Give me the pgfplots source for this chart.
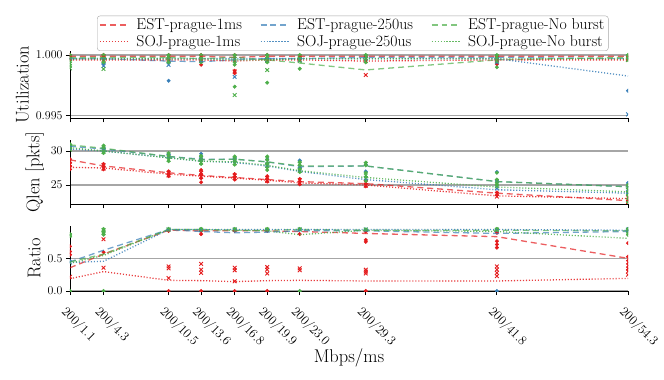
\documentclass[border=0pt]{standalone}
\usepackage{pgfplots}
\pgfplotsset{compat=1.18}
\definecolor{cr}{HTML}{E41A1C}
\definecolor{cb}{HTML}{377EB8}
\definecolor{cg}{HTML}{4DAF4A}
\pgfplotsset{
  base/.style={
    scale only axis, width=558bp,
    xmin=1.1, xmax=54.3,
    xtick={1.1,4.3,10.5,13.6,16.8,19.9,23.0,29.3,41.8,54.3},
    axis x line=bottom, axis y line=left,
    axis line style={-, line width=0.9pt, black},
    tick style={black, line width=0.8pt},
    major tick length=4bp, tick align=outside,
    ymajorgrids, grid style={black!35, line width=1.1pt},
    clip marker paths=true,
    tick label style={font=\fontsize{13}{15}\selectfont},
    label style={font=\fontsize{18.5}{22}\selectfont},
    scaled y ticks=false,
  },
  lE/.style={line width=1.3pt, opacity=0.7, dash pattern=on 6pt off 4pt},
  lS/.style={line width=1.3pt, opacity=0.85, dash pattern=on 1.1pt off 1.9pt},
  mE/.style={only marks, mark=*, mark size=1.8pt, forget plot, mark options={solid, draw=#1, fill=#1}},
  mS/.style={only marks, mark=x, mark size=2.6pt, forget plot, mark options={solid, draw=#1, line width=0.9pt}},
  legend image code/.code={\draw[#1] (0bp,0bp) -- (29bp,0bp);},
}
\begin{document}
\begin{tikzpicture}
\path[use as bounding box] (-70bp,-89bp) rectangle (594bp,291bp);
% ---------------- Utilization ----------------
\begin{axis}[base, at={(0bp,172.5bp)}, anchor=south west, height=67.5bp,
  ymin=0.99477, ymax=1.00033, ytick={0.995,1.000},
  yticklabel style={/pgf/number format/.cd, fixed, fixed zerofill, precision=3},
  xticklabels={}, ylabel={Utilization},
  legend columns=3,
  legend style={at={(0.0484,1.0)}, anchor=south west, font=\fontsize{15.8}{18}\selectfont,
    draw=black!35, rounded corners=3pt, inner xsep=2pt, inner ysep=1pt,
    /tikz/every odd column/.append style={column sep=5pt},
    /tikz/every even column/.append style={column sep=16pt}},
  legend cell align=left]
\addplot[mE=cr] coordinates {(1.1,1.0000)(1.1,0.9998)(4.3,1.0000)(4.3,0.9998)(10.5,1.0000)(10.5,0.9998)(13.6,1.0000)(13.6,0.9992)(16.8,1.0000)(16.8,0.9987)(16.8,0.9985)(19.9,1.0000)(19.9,0.9998)(23.0,0.9999)(29.3,0.9999)(41.8,0.9999)(41.8,0.99925)(54.3,0.9999)};
\addplot[mS=cr] coordinates {(1.1,0.9997)(4.3,0.9996)(10.5,0.9996)(13.6,0.9996)(16.8,0.99865)(19.9,0.9996)(23.0,0.9996)(29.3,0.99835)(29.3,0.9995)(41.8,0.9996)(54.3,0.9996)};
\addplot[mE=cb] coordinates {(1.1,0.9998)(4.3,0.9997)(4.3,0.9993)(10.5,0.99788)(10.5,0.9994)(13.6,0.9996)(16.8,0.9995)(19.9,0.9997)(23.0,0.9997)(29.3,0.9998)(41.8,0.9997)(54.3,0.99706)};
\addplot[mS=cb] coordinates {(1.1,0.9997)(4.3,0.9991)(10.5,0.99918)(13.6,0.9995)(16.8,0.9982)(19.9,0.9996)(23.0,0.9996)(29.3,0.9997)(41.8,0.9994)(54.3,0.99511)};
\addplot[mE=cg] coordinates {(1.1,1.0)(1.1,0.9998)(1.1,0.9996)(1.1,0.9994)(1.1,0.9992)(1.1,0.9990)
(4.3,1.0)(4.3,0.9998)(4.3,0.9996)(4.3,0.9994)
(10.5,1.0)(10.5,0.9998)(10.5,0.9996)(10.5,0.9994)
(13.6,1.0)(13.6,0.9998)(13.6,0.9996)(13.6,0.9994)
(16.8,1.0)(16.8,0.9998)(16.8,0.9996)(16.8,0.9994)(16.8,0.9992)(16.8,0.99739)
(19.9,1.0)(19.9,0.9998)(19.9,0.9996)(19.9,0.9994)(19.9,0.99772)
(23.0,1.0)(23.0,0.9998)(23.0,0.9996)(23.0,0.99887)
(29.3,1.0)(29.3,0.9998)(29.3,0.9996)(29.3,0.9994)
(41.8,1.0)(41.8,0.9998)(41.8,0.9996)(41.8,0.99899)
(54.3,1.0)(54.3,0.9998)(54.3,0.9996)};
\addplot[mS=cg] coordinates {(1.1,0.9999)(1.1,0.9997)(1.1,0.9989)(4.3,0.9999)(4.3,0.9995)(4.3,0.99885)(10.5,0.9999)(10.5,0.9995)(13.6,0.9999)(13.6,0.9995)(16.8,0.9999)(16.8,0.9967)(19.9,0.9999)(19.9,0.99876)(19.9,0.9995)(23.0,0.9999)(23.0,0.9995)(29.3,0.9999)(41.8,0.9999)(41.8,0.9995)(54.3,0.9999)(54.3,0.9996)};
\addplot[cr, lE] coordinates {(1.1,0.9999)(4.3,0.9999)(10.5,0.9999)(13.6,0.9999)(16.8,0.9998)(19.9,0.9999)(23.0,0.9999)(29.3,0.9999)(41.8,0.9999)(54.3,0.9999)};
\addlegendentry{EST-prague-1ms}
\addplot[cb, lE] coordinates {(1.1,0.9997)(4.3,0.9997)(10.5,0.9995)(13.6,0.99945)(16.8,0.9996)(19.9,0.9997)(23.0,0.9997)(29.3,0.9998)(41.8,0.9998)(54.3,0.9997)};
\addlegendentry{EST-prague-250us}
\addplot[cg, lE] coordinates {(1.1,0.9998)(4.3,0.9998)(10.5,0.9998)(13.6,0.9997)(16.8,0.9998)(19.9,0.9996)(23.0,0.99934)(29.3,0.99877)(41.8,0.9996)(54.3,0.9998)};
\addlegendentry{EST-prague-No burst}
\addplot[cr, lS] coordinates {(1.1,0.9996)(4.3,0.9996)(10.5,0.9996)(13.6,0.9996)(16.8,0.9995)(19.9,0.9996)(23.0,0.9996)(29.3,0.9995)(41.8,0.9996)(54.3,0.9996)};
\addlegendentry{SOJ-prague-1ms}
\addplot[cb, lS] coordinates {(1.1,0.9997)(4.3,0.9997)(10.5,0.9997)(13.6,0.9997)(16.8,0.9997)(19.9,0.9997)(23.0,0.9997)(29.3,0.9997)(41.8,0.9997)(54.3,0.99827)};
\addlegendentry{SOJ-prague-250us}
\addplot[cg, lS] coordinates {(1.1,0.9997)(4.3,0.9997)(10.5,0.9997)(13.6,0.9997)(16.8,0.9996)(19.9,0.9996)(23.0,0.9997)(29.3,0.9997)(41.8,0.9997)(54.3,0.9997)};
\addlegendentry{SOJ-prague-No burst}
\end{axis}
% ---------------- Qlen ----------------
\begin{axis}[base, at={(0bp,86.5bp)}, anchor=south west, height=64.5bp,
  ymin=22.13, ymax=31.62, ytick={25,30},
  xticklabels={}, ylabel={Qlen [pkts]}]
\addplot[mE=cr] coordinates {(1.1,28.8)(1.1,28.3)(1.1,27.8)(1.1,27.3)(4.3,28.1)(4.3,27.7)(4.3,27.3)(10.5,27.0)(10.5,26.6)(10.5,26.3)(13.6,27.2)(13.6,26.6)(13.6,26.0)(13.6,25.4)(16.8,26.6)(16.8,26.2)(16.8,25.8)(19.9,26.3)(19.9,25.9)(19.9,25.5)(23.0,25.9)(23.0,25.5)(23.0,25.1)(29.3,25.6)(29.3,25.2)(29.3,24.8)(41.8,23.9)(41.8,23.5)(54.3,23.0)(54.3,22.6)};
\addplot[mS=cr] coordinates {(1.1,28.0)(1.1,27.5)(4.3,27.9)(4.3,27.4)(10.5,26.8)(10.5,26.4)(13.6,26.8)(13.6,26.2)(16.8,26.4)(16.8,26.0)(19.9,26.0)(19.9,25.6)(23.0,25.7)(23.0,25.3)(29.3,25.4)(29.3,24.9)(41.8,23.7)(41.8,23.3)(54.3,23.2)(54.3,22.5)};
\addplot[mE=cb] coordinates {(1.1,30.8)(1.1,30.4)(4.3,30.5)(4.3,30.0)(10.5,29.5)(10.5,29.0)(13.6,29.6)(13.6,28.7)(16.8,29.0)(16.8,28.5)(19.9,28.8)(19.9,28.2)(23.0,28.6)(23.0,27.5)(29.3,28.0)(29.3,27.0)(41.8,26.9)(41.8,25.6)(54.3,25.3)(54.3,24.5)};
\addplot[mS=cb] coordinates {(1.1,30.5)(4.3,30.2)(10.5,29.3)(13.6,28.9)(16.8,28.7)(19.9,28.0)(23.0,27.3)(29.3,26.0)(41.8,24.5)(54.3,24.0)};
\addplot[mE=cg] coordinates {(1.1,31.0)(1.1,30.6)(1.1,30.3)(4.3,30.8)(4.3,30.4)(4.3,30.0)(4.3,29.7)(10.5,29.7)(10.5,29.3)(10.5,28.9)(10.5,28.5)(13.6,29.3)(13.6,28.9)(13.6,28.5)(13.6,28.1)(16.8,29.2)(16.8,28.8)(16.8,28.4)(16.8,28.0)(19.9,29.2)(19.9,28.7)(19.9,28.2)(19.9,27.6)(19.9,27.2)(23.0,28.4)(23.0,27.9)(23.0,27.4)(23.0,26.9)(29.3,28.3)(29.3,27.9)(29.3,26.8)(29.3,26.2)(29.3,25.6)(41.8,26.8)(41.8,25.8)(41.8,25.3)(41.8,25.0)(54.3,25.0)(54.3,24.5)(54.3,24.0)(54.3,23.5)(54.3,23.0)(54.3,22.5)};
\addplot[mS=cg] coordinates {(1.1,30.7)(1.1,30.2)(4.3,30.5)(4.3,29.9)(10.5,29.5)(10.5,28.7)(13.6,29.0)(13.6,28.3)(16.8,28.9)(16.8,28.2)(19.9,28.9)(19.9,27.8)(23.0,28.1)(23.0,27.1)(29.3,28.1)(29.3,26.4)(41.8,25.6)(41.8,24.8)(54.3,24.7)(54.3,23.8)};
\addplot[cr, lE] coordinates {(1.1,28.7)(4.3,27.8)(10.5,26.8)(13.6,26.4)(16.8,26.1)(19.9,25.8)(23.0,25.5)(29.3,25.2)(41.8,23.8)(54.3,22.7)};
\addplot[cb, lE] coordinates {(1.1,30.7)(4.3,30.3)(10.5,29.2)(13.6,28.8)(16.8,28.8)(19.9,28.4)(23.0,27.7)(29.3,27.8)(41.8,25.5)(54.3,24.75)};
\addplot[cg, lE] coordinates {(1.1,30.9)(4.3,30.4)(10.5,29.2)(13.6,28.7)(16.8,28.8)(19.9,28.4)(23.0,27.8)(29.3,27.8)(41.8,25.5)(54.3,24.75)};
\addplot[cr, lS] coordinates {(1.1,27.6)(4.3,27.5)(10.5,26.6)(13.6,26.3)(16.8,26.0)(19.9,25.7)(23.0,25.3)(29.3,25.0)(41.8,23.4)(54.3,23.0)};
\addplot[cb, lS] coordinates {(1.1,30.3)(4.3,30.0)(10.5,29.0)(13.6,28.5)(16.8,28.3)(19.9,27.8)(23.0,27.0)(29.3,25.8)(41.8,24.3)(54.3,23.8)};
\addplot[cg, lS] coordinates {(1.1,30.5)(4.3,30.0)(10.5,29.0)(13.6,28.5)(16.8,28.4)(19.9,27.9)(23.0,27.1)(29.3,26.1)(41.8,24.7)(54.3,24.0)};
\end{axis}
% ---------------- Ratio ----------------
\begin{axis}[base, at={(0bp,0bp)}, anchor=south west, height=65bp,
  ymin=0, ymax=1.005, ytick={0,0.5},
  yticklabel style={/pgf/number format/.cd, fixed, fixed zerofill, precision=1},
  xticklabels={200/1.1,200/4.3,200/10.5,200/13.6,200/16.8,200/19.9,200/23.0,200/29.3,200/41.8,200/54.3},
  xticklabel style={xshift=-2bp, yshift=-10bp, rotate=-45, anchor=north west, inner sep=0pt},
  ylabel={Ratio}, xlabel={Mbps/ms},
  xlabel style={at={(axis description cs:0.5,0)}, anchor=north, yshift=-54bp}]
\addplot[mE=cr] coordinates {(1.1,0.69)(1.1,0.61)(1.1,0.56)(4.3,0.60)(10.5,0.93)(10.5,0.0)(13.6,0.88)(13.6,0.93)(13.6,0.0)(16.8,0.93)(16.8,0.0)(19.9,0.93)(19.9,0.0)(23.0,0.88)(29.3,0.92)(29.3,0.79)(29.3,0.76)(29.3,0.0)(41.8,0.90)(41.8,0.77)(41.8,0.72)(41.8,0.67)(54.3,0.74)(54.3,0.53)(54.3,0.47)(54.3,0.42)(54.3,0.37)(54.3,0.33)};
\addplot[mS=cr] coordinates {(1.1,0.22)(4.3,0.80)(4.3,0.36)(10.5,0.38)(10.5,0.35)(10.5,0.20)(13.6,0.42)(13.6,0.33)(13.6,0.28)(16.8,0.36)(16.8,0.32)(16.8,0.15)(19.9,0.37)(19.9,0.33)(19.9,0.27)(23.0,0.35)(23.0,0.32)(29.3,0.33)(29.3,0.30)(29.3,0.27)(41.8,0.38)(41.8,0.33)(41.8,0.28)(41.8,0.23)(54.3,0.30)(54.3,0.25)};
\addplot[mE=cb] coordinates {(1.1,0.46)(10.5,0.95)(13.6,0.95)(16.8,0.94)(19.9,0.95)(23.0,0.95)(29.3,0.95)(41.8,0.95)(41.8,0.0)(54.3,0.96)};
\addplot[mS=cb] coordinates {(1.1,0.44)(10.5,0.95)(13.6,0.94)(16.8,0.95)(19.9,0.94)(23.0,0.95)(29.3,0.95)(41.8,0.94)(54.3,0.95)};
\addplot[mE=cg] coordinates {(1.1,0.88)(1.1,0.85)(1.1,0.0)(4.3,0.96)(4.3,0.93)(4.3,0.90)(4.3,0.87)(4.3,0.0)(10.5,0.96)(10.5,0.95)(13.6,0.96)(13.6,0.95)(16.8,0.96)(16.8,0.95)(19.9,0.96)(19.9,0.95)(23.0,0.96)(23.0,0.0)(29.3,0.95)(41.8,0.96)(54.3,0.96)(54.3,0.93)(54.3,0.90)(54.3,0.87)};
\addplot[mS=cg] coordinates {(1.1,0.86)(4.3,0.94)(4.3,0.90)(10.5,0.95)(13.6,0.95)(16.8,0.95)(19.9,0.95)(23.0,0.95)(29.3,0.95)(41.8,0.95)(54.3,0.94)};
\addplot[cr, lE] coordinates {(1.1,0.36)(4.3,0.57)(10.5,0.94)(13.6,0.93)(16.8,0.93)(19.9,0.93)(23.0,0.92)(29.3,0.89)(41.8,0.84)(54.3,0.505)};
\addplot[cb, lE] coordinates {(1.1,0.45)(4.3,0.63)(10.5,0.95)(13.6,0.92)(16.8,0.90)(19.9,0.91)(23.0,0.93)(29.3,0.93)(41.8,0.89)(54.3,0.92)};
\addplot[cg, lE] coordinates {(1.1,0.45)(4.3,0.57)(10.5,0.95)(13.6,0.95)(16.8,0.94)(19.9,0.94)(23.0,0.95)(29.3,0.94)(41.8,0.94)(54.3,0.93)};
\addplot[cr, lS] coordinates {(1.1,0.19)(4.3,0.30)(10.5,0.165)(13.6,0.16)(16.8,0.145)(19.9,0.16)(23.0,0.165)(29.3,0.155)(41.8,0.155)(54.3,0.195)};
\addplot[cb, lS] coordinates {(1.1,0.44)(4.3,0.46)(10.5,0.95)(13.6,0.95)(16.8,0.95)(19.9,0.95)(23.0,0.95)(29.3,0.95)(41.8,0.95)(54.3,0.94)};
\addplot[cg, lS] coordinates {(1.1,0.43)(4.3,0.55)(10.5,0.95)(13.6,0.95)(16.8,0.94)(19.9,0.93)(23.0,0.87)(29.3,0.94)(41.8,0.92)(54.3,0.815)};
\end{axis}
\end{tikzpicture}
\end{document}
